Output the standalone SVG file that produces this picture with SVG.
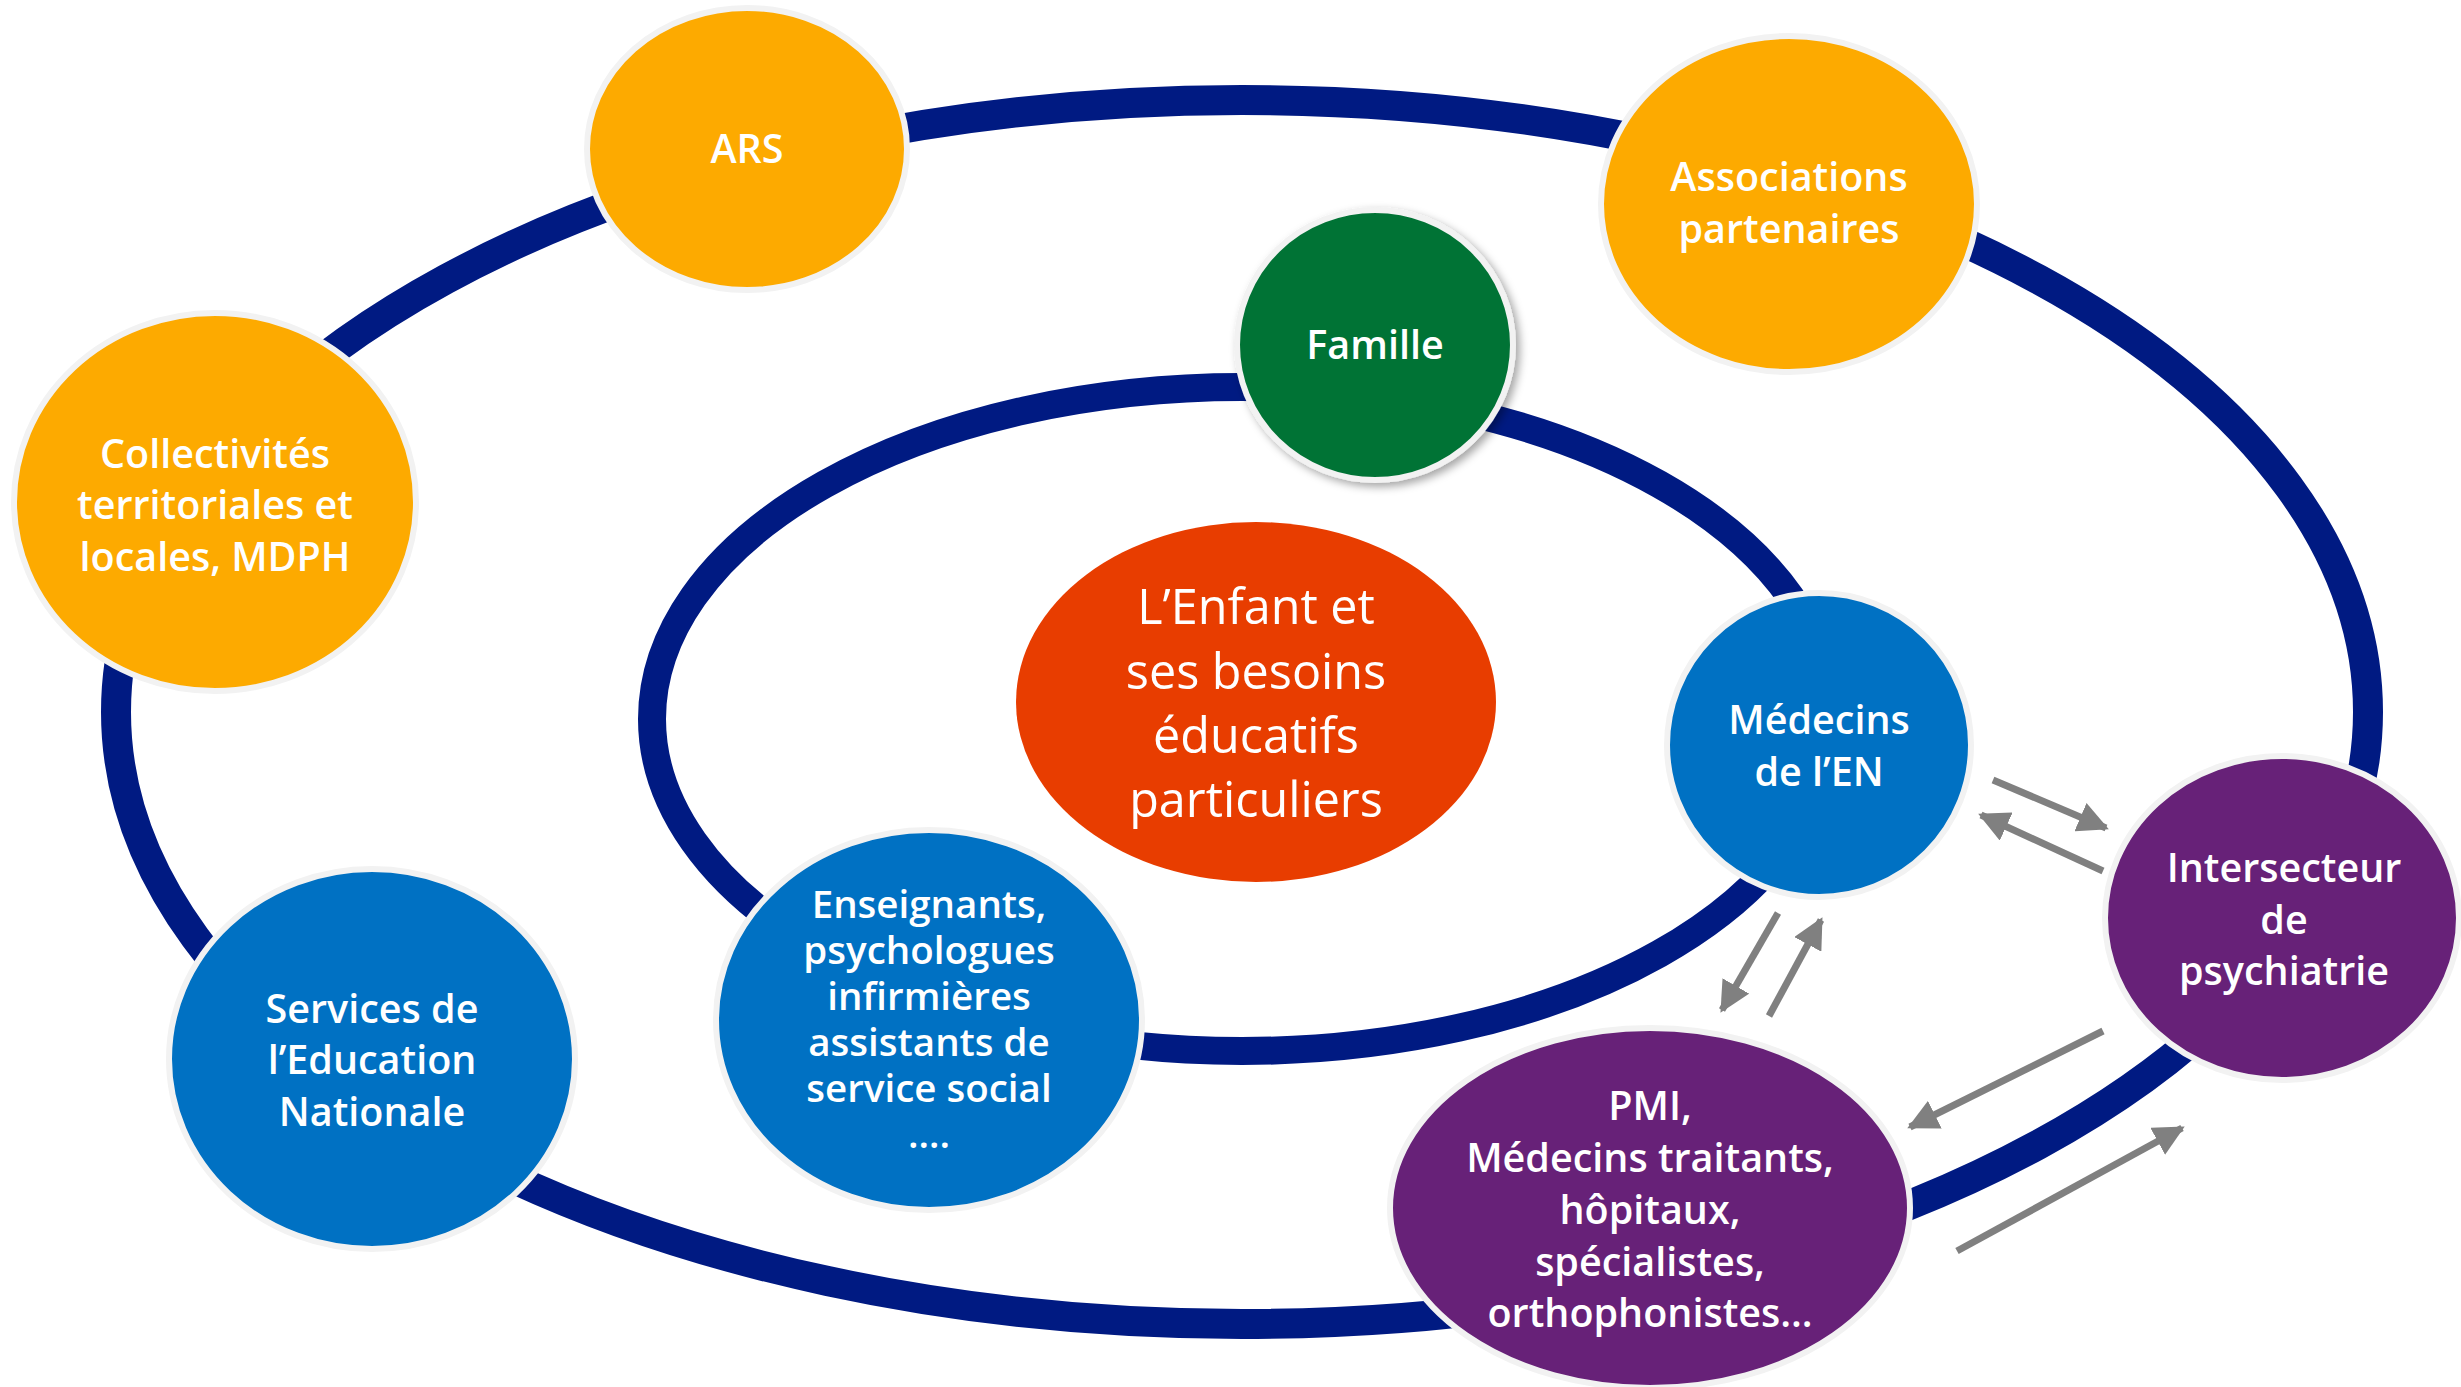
<svg xmlns="http://www.w3.org/2000/svg" width="2461" height="1387" viewBox="0 0 2461 1387">
  <style>
    .ring { fill: none; stroke: #001A82; }
    .node { stroke: #F2F2F2; stroke-width: 6; }
    .orange { fill: #FDAA00; }
    .green { fill: #037336; }
    .red { fill: #E83D00; }
    .blue { fill: #0071C3; }
    .purple { fill: #672178; }
    .lbl { font-family: "Open Sans", "Noto Sans", "DejaVu Sans", sans-serif; font-weight: 600; font-size: 39.5px; fill: #FFFFFF; text-anchor: middle; }
    .small { font-size: 38.5px; }
    .big { font-family: "Open Sans", "Noto Sans", "DejaVu Sans", sans-serif; font-weight: 400; font-size: 48.5px; fill: #FFFFFF; text-anchor: middle; }
    .arrow { stroke: #808080; stroke-width: 7; fill: none; marker-end: url(#ah); }
  </style>
  <defs>
    <marker id="ah" viewBox="0 0 10 10" refX="9" refY="5" markerWidth="4.4" markerHeight="4.4" orient="auto" markerUnits="strokeWidth">
      <path d="M0,0 L10,5 L0,10 z" fill="#808080"/>
    </marker>
    <filter id="sh" x="-20%" y="-20%" width="140%" height="140%">
      <feDropShadow dx="4" dy="4" stdDeviation="4" flood-color="#000000" flood-opacity="0.35"/>
    </filter>
  </defs>
  <rect width="2461" height="1387" fill="#FFFFFF"/>

  <g id="connectors">
    <ellipse id="outer-ring" class="ring" cx="1242" cy="712" rx="1126" ry="612" stroke-width="30"/>
    <ellipse id="inner-ring" class="ring" cx="1242" cy="719" rx="590" ry="332" stroke-width="28"/>
    <line class="arrow" x1="1993" y1="780" x2="2106" y2="828"/>
    <line class="arrow" x1="2103" y1="871" x2="1981" y2="815"/>
    <line class="arrow" x1="1778" y1="913" x2="1722" y2="1010"/>
    <line class="arrow" x1="1769" y1="1016" x2="1821" y2="920"/>
    <line class="arrow" x1="2103" y1="1031" x2="1910" y2="1127"/>
    <line class="arrow" x1="1957" y1="1251" x2="2182" y2="1128"/>
  </g>

  <g id="node-ars">
    <ellipse class="node orange" cx="747" cy="149" rx="160" ry="141"/>
    <text class="lbl" x="747" y="163">ARS</text>
  </g>
  <g id="node-associations">
    <ellipse class="node orange" cx="1789" cy="204" rx="188" ry="168"/>
    <text class="lbl" x="1789" y="191">Associations</text>
    <text class="lbl" x="1789" y="243">partenaires</text>
  </g>
  <g id="node-collectivites">
    <ellipse class="node orange" cx="215" cy="502" rx="201" ry="189"/>
    <text class="lbl" x="215" y="468">Collectivités</text>
    <text class="lbl" x="215" y="519">territoriales et</text>
    <text class="lbl" x="215" y="571">locales, MDPH</text>
  </g>
  <g id="node-famille">
    <ellipse class="node green" cx="1375" cy="345" rx="138" ry="135" filter="url(#sh)"/>
    <text class="lbl" x="1375" y="359">Famille</text>
  </g>
  <g id="node-enfant">
    <ellipse class="red" cx="1256" cy="702" rx="240" ry="180"/>
    <text class="big" x="1256" y="624">L’Enfant et</text>
    <text class="big" x="1256" y="689">ses besoins</text>
    <text class="big" x="1256" y="753">éducatifs</text>
    <text class="big" x="1256" y="817">particuliers</text>
  </g>
  <g id="node-medecins-en">
    <ellipse class="node blue" cx="1819" cy="745" rx="152" ry="152"/>
    <text class="lbl" x="1819" y="734">Médecins</text>
    <text class="lbl" x="1819" y="786">de l’EN</text>
  </g>
  <g id="node-intersecteur">
    <ellipse class="node purple" cx="2282" cy="918" rx="177" ry="162"/>
    <text class="lbl" x="2284" y="882">Intersecteur</text>
    <text class="lbl" x="2284" y="934">de</text>
    <text class="lbl" x="2284" y="985">psychiatrie</text>
  </g>
  <g id="node-pmi">
    <ellipse class="node purple" cx="1650" cy="1208" rx="260" ry="180"/>
    <text class="lbl" x="1650" y="1120">PMI,</text>
    <text class="lbl" x="1650" y="1172">Médecins traitants,</text>
    <text class="lbl" x="1650" y="1224">hôpitaux,</text>
    <text class="lbl" x="1650" y="1276">spécialistes,</text>
    <text class="lbl" x="1650" y="1327">orthophonistes…</text>
  </g>
  <g id="node-enseignants">
    <ellipse class="node blue" cx="929" cy="1020" rx="213" ry="190"/>
    <text class="lbl small" x="929" y="918">Enseignants,</text>
    <text class="lbl small" x="929" y="964">psychologues</text>
    <text class="lbl small" x="929" y="1010">infirmières</text>
    <text class="lbl small" x="929" y="1056">assistants de</text>
    <text class="lbl small" x="929" y="1102">service social</text>
    <text class="lbl small" x="929" y="1148">….</text>
  </g>
  <g id="node-services-en">
    <ellipse class="node blue" cx="372" cy="1059" rx="203" ry="190"/>
    <text class="lbl" x="372" y="1023">Services de</text>
    <text class="lbl" x="372" y="1074">l’Education</text>
    <text class="lbl" x="372" y="1126">Nationale</text>
  </g>
</svg>
